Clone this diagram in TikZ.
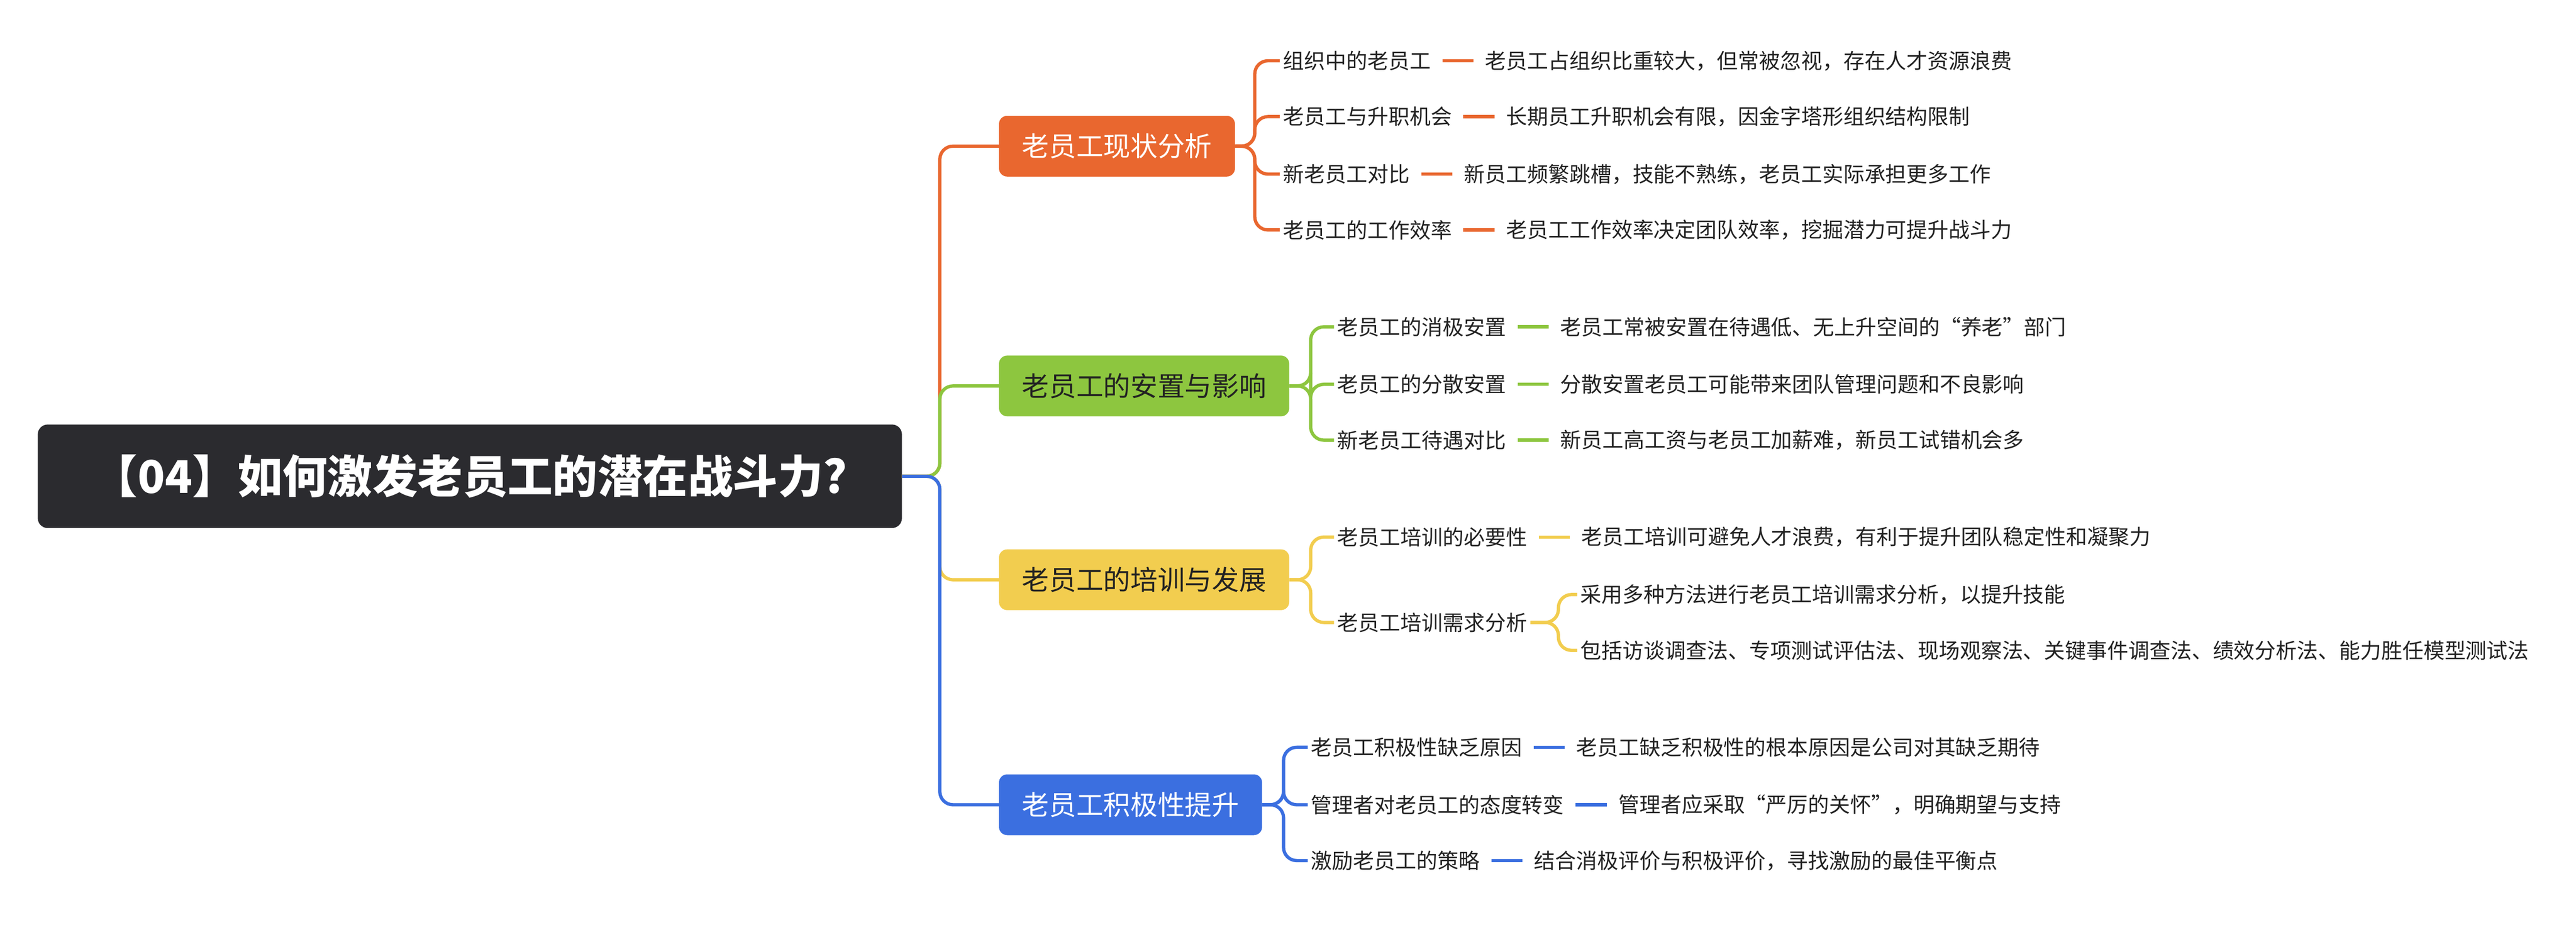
\documentclass[tikz,border=0pt]{standalone}
\usepackage{fontspec}
\setmainfont{Noto Sans CJK SC}
\usetikzlibrary{positioning}
\definecolor{rootbg}{HTML}{2B2B2F}
\definecolor{corange}{HTML}{E9672F}
\definecolor{cgreen}{HTML}{8DC63F}
\definecolor{cyellow}{HTML}{F2CD4F}
\definecolor{cblue}{HTML}{3B6FE0}
\definecolor{ctext}{HTML}{222222}

\begin{document}
\begin{tikzpicture}[x=1mm,y=-1mm]
      \tikzstyle{rootbox} = [fill=rootbg, rounded corners=6mm, text=white, font=\fontsize{78}{90}\selectfont\bfseries, minimum width=526mm, minimum height=63mm, inner sep=0pt]
      \tikzstyle{topic} = [rounded corners=5mm, font=\fontsize{47}{56}\selectfont, minimum height=37mm, inner xsep=14mm, inner ysep=0pt]
      \tikzstyle{leaf} = [font=\fontsize{36.5}{44}\selectfont, text=ctext, inner sep=2mm, anchor=west]
      \tikzstyle{link} = [line width=2mm, rounded corners=8mm]
      \tikzstyle{tie} = [line width=2mm, shorten <=5mm, shorten >=5mm]

      \useasboundingbox (0,0) rectangle (1568,563);

      \node[rootbox] (root) at (286,290) {【04】如何激发老员工的潜在战斗力?};

      \node[topic, fill=corange, text=white, anchor=west] (now) at (608,89) {老员工现状分析};
      \node[topic, fill=cgreen, text=ctext, anchor=west] (place) at (608,235) {老员工的安置与影响};
      \node[topic, fill=cyellow, text=ctext, anchor=west] (train) at (608,353) {老员工的培训与发展};
      \node[topic, fill=cblue, text=white, anchor=west] (boost) at (608,490) {老员工积极性提升};

      \draw[link, corange] (root.east) -- ++(23,0) |- (now.west);
      \draw[link, cgreen] (root.east) -- ++(23,0) |- (place.west);
      \draw[link, cyellow] (root.east) -- ++(23,0) |- (train.west);
      \draw[link, cblue] (root.east) -- ++(23,0) |- (boost.west);

      % 现状分析
      \node[leaf] (now1) at (779,37) {组织中的老员工};
      \node[leaf] (now2) at (779,71) {老员工与升职机会};
      \node[leaf] (now3) at (779,106) {新老员工对比};
      \node[leaf] (now4) at (779,140) {老员工的工作效率};
      \node[leaf, right=29mm of now1] (now1d) {老员工占组织比重较大，但常被忽视，存在人才资源浪费};
      \node[leaf, right=29mm of now2] (now2d) {长期员工升职机会有限，因金字塔形组织结构限制};
      \node[leaf, right=29mm of now3] (now3d) {新员工频繁跳槽，技能不熟练，老员工实际承担更多工作};
      \node[leaf, right=29mm of now4] (now4d) {老员工工作效率决定团队效率，挖掘潜力可提升战斗力};
      \foreach \i in {1,...,4} {
        \draw[link, corange] (now.east) -- ++(12,0) |- (now\i.west);
        \draw[tie, corange] (now\i.east) -- (now\i d.west);
      }

      % 安置与影响
      \node[leaf] (place1) at (812,199) {老员工的消极安置};
      \node[leaf] (place2) at (812,234) {老员工的分散安置};
      \node[leaf] (place3) at (812,268) {新老员工待遇对比};
      \node[leaf, right=29mm of place1] (place1d) {老员工常被安置在待遇低、无上升空间的“养老”部门};
      \node[leaf, right=29mm of place2] (place2d) {分散安置老员工可能带来团队管理问题和不良影响};
      \node[leaf, right=29mm of place3] (place3d) {新员工高工资与老员工加薪难，新员工试错机会多};
      \foreach \i in {1,...,3} {
        \draw[link, cgreen] (place.east) -- ++(13,0) |- (place\i.west);
        \draw[tie, cgreen] (place\i.east) -- (place\i d.west);
      }

      % 培训与发展
      \node[leaf] (train1) at (812,327) {老员工培训的必要性};
      \node[leaf] (train2) at (812,379) {老员工培训需求分析};
      \node[leaf, right=29mm of train1] (train1d) {老员工培训可避免人才浪费，有利于提升团队稳定性和凝聚力};
      \node[leaf] (train2a) at (960,362) {采用多种方法进行老员工培训需求分析，以提升技能};
      \node[leaf] (train2b) at (960,396) {包括访谈调查法、专项测试评估法、现场观察法、关键事件调查法、绩效分析法、能力胜任模型测试法};
      \foreach \i in {1,2} {
        \draw[link, cyellow] (train.east) -- ++(13,0) |- (train\i.west);
      }
      \draw[tie, cyellow] (train1.east) -- (train1d.west);
      \draw[link, cyellow] (train2.east) -- ++(17,0) |- (train2a.west);
      \draw[link, cyellow] (train2.east) -- ++(17,0) |- (train2b.west);

      % 积极性提升
      \node[leaf] (boost1) at (796,455) {老员工积极性缺乏原因};
      \node[leaf] (boost2) at (796,490) {管理者对老员工的态度转变};
      \node[leaf] (boost3) at (796,524) {激励老员工的策略};
      \node[leaf, right=29mm of boost1] (boost1d) {老员工缺乏积极性的根本原因是公司对其缺乏期待};
      \node[leaf, right=29mm of boost2] (boost2d) {管理者应采取“严厉的关怀”，明确期望与支持};
      \node[leaf, right=29mm of boost3] (boost3d) {结合消极评价与积极评价，寻找激励的最佳平衡点};
      \foreach \i in {1,...,3} {
        \draw[link, cblue] (boost.east) -- ++(13,0) |- (boost\i.west);
        \draw[tie, cblue] (boost\i.east) -- (boost\i d.west);
      }
    \end{tikzpicture}
\end{document}
